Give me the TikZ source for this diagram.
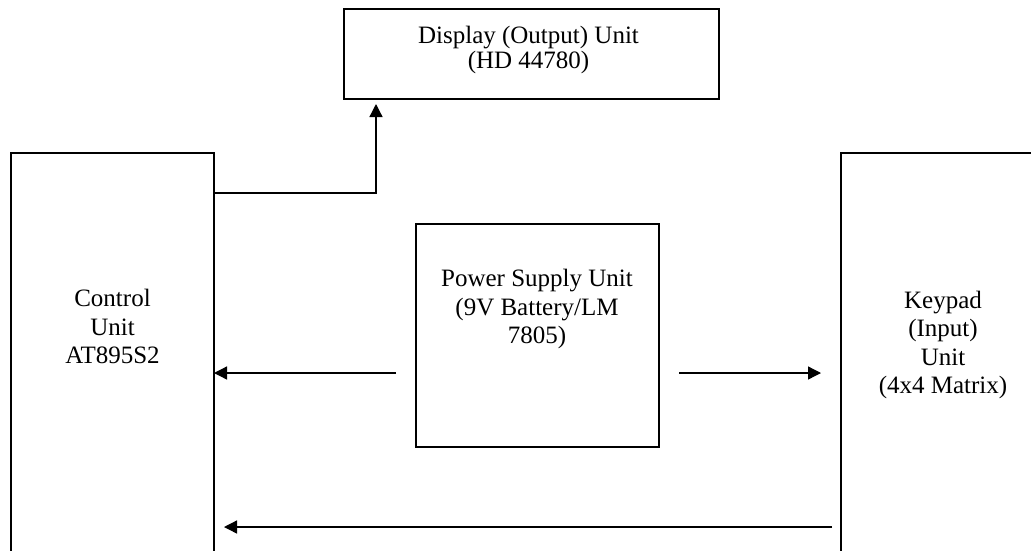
\documentclass[tikz,border=0pt]{standalone}
\usepackage{fontspec}
\setmainfont{Liberation Serif}
\usetikzlibrary{arrows.meta}

\begin{document}
\begin{tikzpicture}[x=1pt,y=-1pt,
  unitbox/.style={draw=black,line width=1.3pt,inner sep=0pt,outer sep=0pt,anchor=north west,fill=none},
  caption/.style={align=center,anchor=base,inner sep=0pt,font=\fontsize{25}{28.3}\selectfont},
  arr/.style={line width=1.3pt,-{Triangle[length=13pt,width=13pt]}}]
\useasboundingbox (0,0) rectangle (1031,550);
\clip (0,0) rectangle (1031,550);

% blocks
\node[unitbox,minimum width=375pt,minimum height=90pt] (disp) at (344,9) {};
\node[unitbox,minimum width=203pt,minimum height=420pt] (ctrl) at (11,153) {};
\node[unitbox,minimum width=243pt,minimum height=223pt] (psu) at (416,224) {};
\node[unitbox,minimum width=205pt,minimum height=420pt] (keypad) at (841,153) {};

% block captions
\node[caption,font=\fontsize{25}{25}\selectfont] (disptxt) at (528.5,68.3) {Display (Output) Unit\\(HD 44780)};
\node[caption] (ctrltxt) at (112.5,363.3) {Control\\Unit\\AT895S2};
\node[caption] (psutxt) at (537,343.3) {Power Supply Unit\\(9V Battery/LM\\7805)};
\node[caption] (keytxt) at (943,393.3) {Keypad\\(Input)\\Unit\\(4x4 Matrix)};

% connections
\coordinate (pwr) at (396,373);
\coordinate (ret) at (832,527);
\draw[arr] ([yshift=-40pt]ctrl.north east) -| ([xshift=32pt,yshift=-5pt]disp.south west);
\draw[arr] (pwr) -- (pwr -| ctrl.east);
\draw[arr] ([xshift=20pt]psu.east |- pwr) -- ([xshift=-20pt]keypad.west |- pwr);
\draw[arr] (ret) -- ([xshift=10pt]ret -| ctrl.east);
\end{tikzpicture}
\end{document}
